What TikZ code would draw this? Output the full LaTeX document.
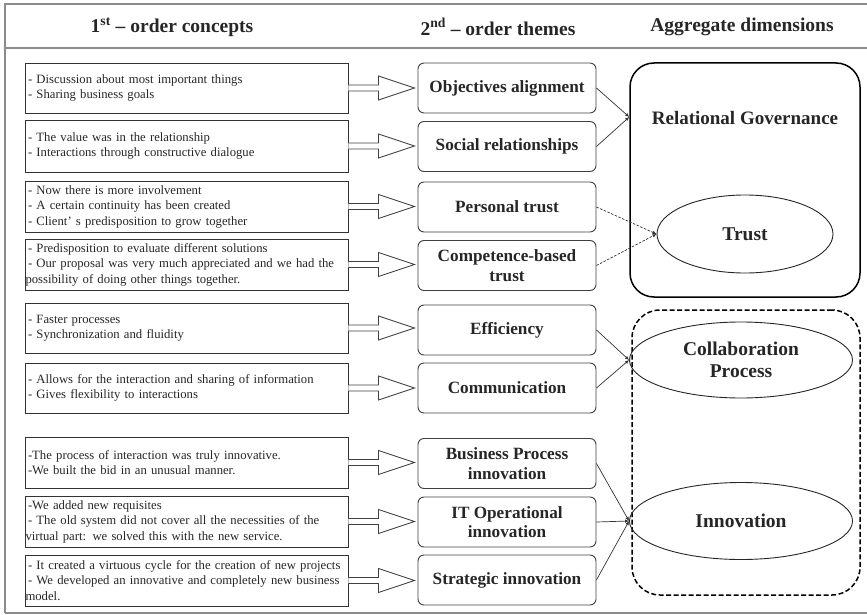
\documentclass[tikz,border=0pt]{standalone}
\usepackage{fontspec}
\setmainfont{Liberation Serif}
\usetikzlibrary{shapes.geometric,arrows.meta,calc}

\tikzset{
  frameline/.style={draw=black!45, line width=1.6pt},
  concept/.style={draw=black!80, line width=0.9pt, minimum width=323pt, text width=317pt,
    inner xsep=3pt, inner ysep=0pt, align=left, font=\fontsize{12.7}{14.5}\selectfont,
    text=black!85},
  threeline/.style={font=\fontsize{12.7}{15.5}\selectfont},
  theme/.style={draw=black!75, line width=0.9pt, rounded corners=6pt, minimum width=178pt,
    minimum height=50pt, inner sep=0pt, align=center,
    font=\bfseries\fontsize{17.2}{19.5}\selectfont, text=black!85},
  heading/.style={font=\bfseries\fontsize{19.5}{22}\selectfont, text=black!85},
  blockarrow/.style={draw=black!75, line width=0.9pt, fill=white, line join=miter},
  link/.style={draw=black!80, line width=0.7pt, -{Latex[length=4pt,width=3.5pt]}},
  dimension/.style={ellipse, draw=black!85, line width=0.9pt, inner sep=0pt, align=center,
    font=\bfseries\fontsize{19.5}{22}\selectfont, text=black!85},
}

% hollow block arrow from a concept box to its theme box
\newcommand\blockarr[2]{%
  \draw[blockarrow] ($(#1.east)+(0,-3)$) -- ++(30,0) -- ++(0,-9)
    -- ($(#1.east -| #2.west)+(-3,0)$) -- ($(#1.east)+(30,12)$) -- ++(0,-9)
    -- ($(#1.east)+(0,3)$);}

\begin{document}
\begin{tikzpicture}[x=1pt,y=-1pt]
\useasboundingbox (0,0) rectangle (867,615);

% outer frame and header rule
\draw[frameline] (5,613) -- (5,4) -- (872,4);
\draw[frameline] (5,613) -- (872,613);
\draw[frameline] (5,48) -- (872,48);

\node[heading] (h1) at (172,27) {1\textsuperscript{st} – order concepts};
\node[heading] (h2) at (498,27) {2\textsuperscript{nd} – order themes};
\node[heading] (h3) at (742,27) {Aggregate dimensions};

% first-order concepts
\node[concept, minimum height=50pt] (c1) at (186.5,88)
  {- Discussion about most important things\\- Sharing business goals};
\node[concept, minimum height=52pt] (c2) at (186.5,146)
  {- The value was in the relationship\\- Interactions through constructive dialogue};
\node[concept, threeline, minimum height=51pt] (c3) at (186.5,206.5)
  {- Now there is more involvement\\- A certain continuity has been created\\- Client’ s predisposition to grow together};
\node[concept, threeline, minimum height=51pt] (c4) at (186.5,264.5)
  {- Predisposition to evaluate different solutions\\- Our proposal was very much appreciated and we had the\\\hspace*{-2.5pt}possibility of doing other things together.};
\node[concept, minimum height=50pt] (c5) at (186.5,328)
  {- Faster processes\\- Synchronization and fluidity};
\node[concept, minimum height=50pt] (c6) at (186.5,388)
  {- Allows for the interaction and sharing of information\\- Gives flexibility to interactions};
\node[concept, minimum height=51pt] (c7) at (186.5,462.5)
  {-The process of interaction was truly innovative.\\-We built the bid in an unusual manner.};
\node[concept, threeline, minimum height=51pt] (c8) at (186.5,521.5)
  {-We added new requisites\\- The old system did not cover all the necessities of the\\\hspace*{-2.5pt}virtual part: we solved this with the new service.};
\node[concept, threeline, minimum height=51pt] (c9) at (186.5,580.5)
  {- It created a virtuous cycle for the creation of new projects\\- We developed an innovative and completely new business\\\hspace*{-2.5pt}model.};

% second-order themes
\node[theme] (t1) at (507,88) {Objectives alignment};
\node[theme] (t2) at (507,146.5) {Social relationships};
\node[theme] (t3) at (507,207) {Personal trust};
\node[theme] (t4) at (507,265.5) {Competence-based\\trust};
\node[theme] (t5) at (507,330) {Efficiency};
\node[theme] (t6) at (507,388) {Communication};
\node[theme] (t7) at (507,463.5) {Business Process\\innovation};
\node[theme] (t8) at (507,522) {IT Operational\\innovation};
\node[theme] (t9) at (507,580) {Strategic innovation};

% block arrows
\foreach \i in {1,...,9} {\blockarr{c\i}{t\i}}

% aggregate dimensions
\node[draw=black, line width=1.5pt, rounded corners=24pt, minimum width=230pt,
  minimum height=234pt, inner sep=0pt] (rg) at (745,180) {};
\node[font=\bfseries\fontsize{19}{22}\selectfont, text=black!85] (rgt) at (745,118)
  {Relational Governance};
\node[dimension, minimum width=176pt, minimum height=78pt] (trust) at (745,234) {Trust};

\node[draw=black, line width=1.5pt, dashed, dash pattern=on 5pt off 2.5pt,
  rounded corners=28pt, minimum width=228pt, minimum height=285pt, inner sep=0pt]
  (cp) at (746,452.5) {};
\node[dimension, minimum width=223pt, minimum height=76pt] (collab) at (741,360)
  {Collaboration\\Process};
\node[dimension, minimum width=223pt, minimum height=77pt] (innov) at (741,521)
  {Innovation};

% links to the aggregate dimensions
\coordinate (rgj) at (rg.west |- 0,117);
\draw[link] (t1.east) -- (rgj);
\draw[link] (t2.east) -- (rgj);
\draw[link, dashed, dash pattern=on 2.5pt off 1.5pt] (t3.east) -- (trust.west);
\draw[link, dashed, dash pattern=on 2.5pt off 1.5pt] (t4.east) -- (trust.west);
\draw[link] (t5.east) -- (collab.west);
\draw[link] (t6.east) -- (collab.west);
\draw[link] (t7.east) -- (innov.west);
\draw[link] (t8.east) -- (innov.west);
\draw[link] (t9.east) -- (innov.west);
\end{tikzpicture}
\end{document}
